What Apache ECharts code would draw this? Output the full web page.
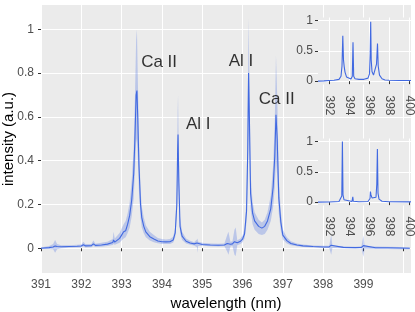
<!DOCTYPE html>
<html><head><meta charset="utf-8">
<script src="https://cdn.jsdelivr.net/npm/echarts@6/dist/echarts.min.js"></script>
<style>html,body{margin:0;padding:0;background:#fff}#c{width:415px;height:312px}</style>
</head><body><div id="c"></div><script>
// ---- main spectrum ----
const wavelength = [391.00,391.20,391.30,391.35,391.40,391.50,391.70,391.90,392.00,392.05,392.10,392.25,392.30,392.35,392.50,392.65,392.78,392.80,392.83,392.95,393.00,393.05,393.10,393.15,393.20,393.25,393.30,393.33,393.36,393.38,393.40,393.43,393.47,393.50,393.55,393.60,393.70,393.80,393.90,394.00,394.10,394.20,394.28,394.33,394.37,394.39,394.40,394.42,394.45,394.50,394.60,394.70,394.80,394.87,394.88,394.90,395.00,395.20,395.40,395.55,395.62,395.65,395.70,395.75,395.80,395.83,395.87,395.95,396.00,396.05,396.10,396.13,396.15,396.17,396.20,396.25,396.30,396.40,396.48,396.55,396.62,396.70,396.76,396.80,396.83,396.86,396.90,396.95,397.00,397.10,397.20,397.35,397.50,397.75,398.00,398.15,398.20,398.23,398.50,398.80,398.95,399.00,399.03,399.30,399.60,399.90,400.15];
const intensity = [0.000,0.003,0.006,0.010,0.008,0.007,0.008,0.009,0.010,0.016,0.011,0.012,0.020,0.013,0.015,0.019,0.026,0.038,0.028,0.045,0.060,0.075,0.080,0.110,0.150,0.220,0.340,0.500,0.700,0.720,0.600,0.380,0.200,0.140,0.100,0.075,0.053,0.042,0.033,0.030,0.029,0.030,0.038,0.070,0.200,0.450,0.520,0.300,0.100,0.055,0.032,0.024,0.020,0.024,0.027,0.020,0.017,0.015,0.014,0.015,0.022,0.025,0.018,0.020,0.030,0.028,0.025,0.032,0.042,0.065,0.170,0.450,0.800,0.600,0.250,0.160,0.125,0.100,0.092,0.100,0.125,0.180,0.280,0.420,0.610,0.500,0.230,0.120,0.060,0.035,0.022,0.015,0.011,0.008,0.006,0.006,0.014,0.006,0.004,0.003,0.004,0.012,0.003,0.002,0.002,0.001,0.000];
const bandLow = [-0.003,-0.003,-0.005,-0.020,-0.005,0.000,0.002,0.003,0.003,0.008,0.004,0.005,0.010,0.006,0.007,0.010,0.015,0.020,0.016,0.025,0.035,0.045,0.050,0.070,0.095,0.145,0.230,0.350,0.480,0.500,0.420,0.260,0.140,0.095,0.068,0.050,0.036,0.028,0.023,0.020,0.019,0.020,0.026,0.050,0.140,0.320,0.350,0.200,0.070,0.038,0.022,0.016,0.013,0.005,-0.020,0.010,0.011,0.009,0.008,0.009,-0.015,-0.030,0.008,0.010,-0.030,-0.035,0.014,0.020,0.028,0.045,0.120,0.320,0.550,0.420,0.180,0.110,0.085,0.065,0.060,0.065,0.085,0.125,0.190,0.280,0.400,0.330,0.160,0.080,0.040,0.022,0.014,0.009,0.006,0.004,0.002,0.001,-0.030,0.001,0.000,0.000,0.000,-0.040,-0.002,-0.003,-0.003,-0.004,-0.004];
const bandHigh = [0.003,0.010,0.020,0.038,0.020,0.014,0.014,0.016,0.017,0.030,0.019,0.020,0.035,0.021,0.025,0.030,0.042,0.075,0.045,0.070,0.090,0.110,0.125,0.160,0.210,0.310,0.460,0.680,0.950,1.000,0.800,0.500,0.270,0.190,0.140,0.105,0.075,0.060,0.047,0.042,0.040,0.042,0.052,0.095,0.280,0.620,0.700,0.420,0.140,0.075,0.045,0.034,0.028,0.040,0.045,0.030,0.025,0.022,0.021,0.022,0.060,0.075,0.030,0.032,0.085,0.095,0.037,0.045,0.058,0.090,0.230,0.650,1.050,0.800,0.340,0.210,0.165,0.130,0.118,0.130,0.165,0.240,0.380,0.580,0.880,0.700,0.320,0.170,0.085,0.050,0.032,0.022,0.017,0.013,0.011,0.012,0.060,0.012,0.009,0.007,0.009,0.058,0.009,0.008,0.007,0.006,0.004];
// ---- inset spectra ----
const inset1Wavelength = [390.9,391.5,392.0,392.5,393.0,393.2,393.3,393.38,393.45,393.52,393.6,393.75,393.9,394.2,394.33,394.4,394.47,394.6,395.0,395.5,395.9,396.05,396.12,396.17,396.22,396.3,396.45,396.6,396.75,396.85,396.92,397.05,397.3,397.6,398.0,399.0,400.2];
const inset1Intensity = [0.00,0.005,0.01,0.015,0.03,0.08,0.25,0.75,0.35,0.24,0.15,0.07,0.04,0.035,0.08,0.64,0.08,0.04,0.03,0.03,0.05,0.12,0.45,0.98,0.35,0.16,0.10,0.13,0.28,0.62,0.25,0.10,0.04,0.02,0.015,0.01,0.01];
const inset2Wavelength = [390.9,392.0,393.0,393.2,393.28,393.34,393.4,393.5,393.7,394.3,394.38,394.43,395.0,395.9,396.1,396.14,396.2,396.3,396.5,396.7,396.78,396.84,396.9,397.0,397.3,398.0,400.2];
const inset2Intensity = [0.0,0.003,0.01,0.03,0.10,1.0,0.12,0.04,0.015,0.01,0.087,0.015,0.008,0.01,0.06,0.175,0.12,0.07,0.06,0.08,0.30,0.875,0.15,0.05,0.015,0.008,0.005];
// ---- ticks & labels ----
const mainXTicks = [391,392,393,394,395,396,397,398,399,400];
const mainXLabels = [391,392,393,394,395,396,397,398,399];
const mainYTicks = [0,0.2,0.4,0.6,0.8,1];
const insetXTicks = [392,394,396,398,400];
const insetYTicks = [0,0.5,1];
const peakNames = ['Ca II','Al I','Al I','Ca II'];
const peakNameX = [393.93,394.90,395.96,396.85];
const peakNameY = [0.85,0.565,0.855,0.68];

const FONT = 'Liberation Sans, Arial, sans-serif';
const BLUE = '#4169E1';
const pairs = (xs, ys) => xs.map((x, i) => [x, ys[i]]);

function xAxisCfg(gi, min, max, ticks, labels, extra) {
  return Object.assign({
    type: 'value', gridIndex: gi, min: min, max: max,
    axisLine: { show: false },
    axisTick: { show: true, length: 3, lineStyle: { color: '#333', width: 1 }, customValues: ticks },
    axisLabel: { color: '#4D4D4D', fontSize: 12, fontFamily: FONT, customValues: labels, hideOverlap: false,
      showMinLabel: true, showMaxLabel: true,
      formatter: v => labels.indexOf(v) >= 0 ? String(v) : '' },
    splitLine: { show: true, lineStyle: { color: '#fff', width: 1 } }
  }, extra || {});
}
function yAxisCfg(gi, min, max, ticks, extra) {
  return Object.assign({
    type: 'value', gridIndex: gi, min: min, max: max,
    axisLine: { show: false },
    axisTick: { show: true, length: 3, lineStyle: { color: '#333', width: 1 }, customValues: ticks },
    axisLabel: { color: '#4D4D4D', fontSize: 12, fontFamily: FONT, customValues: ticks,
      showMinLabel: true, showMaxLabel: true,
      formatter: v => ticks.indexOf(Math.round(v * 1000) / 1000) >= 0 ? String(Math.round(v * 1000) / 1000) : '' },
    splitLine: { show: true, lineStyle: { color: '#fff', width: 1 } }
  }, extra || {});
}

const chart = echarts.init(document.getElementById('c'), null, { renderer: 'canvas' });
const mainX = xAxisCfg(0, 391, 400.18, mainXTicks, mainXLabels, {
  interval: 1, name: 'wavelength (nm)', nameLocation: 'middle', nameGap: 23, nameMoveOverlap: false,
  nameTextStyle: { color: '#000', fontSize: 15, fontFamily: FONT }
});
mainX.axisLabel.margin = 6;
const mainY = yAxisCfg(0, -0.113, 1.111, mainYTicks, {
  splitNumber: 5, name: 'intensity (a.u.)', nameLocation: 'middle', nameGap: 25, nameMoveOverlap: false,
  nameTextStyle: { color: '#000', fontSize: 15, fontFamily: FONT }
});
mainY.axisLabel.margin = 7;

function insetX(gi) {
  const a = xAxisCfg(gi, 390.9, 400.2, insetXTicks, insetXTicks, { splitNumber: 5, z: 6 });
  a.axisLabel.rotate = -90; a.axisLabel.margin = 11;
  return a;
}
function insetY(gi) {
  const a = yAxisCfg(gi, -0.055, 1.05, insetYTicks, { splitNumber: 2, z: 6 });
  a.axisLabel.margin = 5;
  return a;
}

function renderBand(params, api) {
  if (params.dataIndex !== 0) return null;
  const pts = [];
  for (let i = 0; i < wavelength.length; i++) pts.push(api.coord([wavelength[i], bandHigh[i]]));
  for (let i = wavelength.length - 1; i >= 0; i--) pts.push(api.coord([wavelength[i], bandLow[i]]));
  return {
    type: 'polygon',
    shape: { points: pts },
    style: { fill: 'rgba(65,105,225,0.28)' },
    clipPath: { type: 'rect', shape: { x: params.coordSys.x, y: params.coordSys.y, width: params.coordSys.width, height: params.coordSys.height } }
  };
}

const gridCommon = { show: true, backgroundColor: '#EBEBEB', borderWidth: 0, outerBoundsMode: 'none', containLabel: false };
const option = {
  animation: false,
  backgroundColor: '#fff',
  textStyle: { fontFamily: FONT },
  grid: [
    Object.assign({ left: 41, right: 4, top: 5, bottom: 39, z: 0 }, gridCommon),
    Object.assign({ left: 318, width: 93, top: 17.5, height: 67, z: 5 }, gridCommon),
    Object.assign({ left: 318, width: 93, top: 138.5, height: 67, z: 5 }, gridCommon)
  ],
  xAxis: [mainX, insetX(1), insetX(2)],
  yAxis: [mainY, insetY(1), insetY(2)],
  series: [
    { type: 'custom', xAxisIndex: 0, yAxisIndex: 0, renderItem: renderBand,
      data: wavelength.map((x, i) => [x, bandLow[i], bandHigh[i]]), encode: { x: 0, y: [1, 2] }, silent: true, z: 2 },
    { type: 'line', xAxisIndex: 0, yAxisIndex: 0, data: pairs(wavelength, intensity), symbol: 'none',
      lineStyle: { color: BLUE, width: 1.1 }, z: 3 },
    { type: 'scatter', xAxisIndex: 0, yAxisIndex: 0, symbolSize: 0, z: 4,
      data: peakNameX.map((x, i) => ({ value: [x, peakNameY[i]], name: peakNames[i] })),
      label: { show: true, position: 'inside', formatter: p => p.name, color: '#000', fontSize: 17, fontFamily: FONT } },
    { type: 'line', xAxisIndex: 1, yAxisIndex: 1, data: pairs(inset1Wavelength, inset1Intensity), symbol: 'none',
      lineStyle: { color: BLUE, width: 1.1 }, z: 8 },
    { type: 'line', xAxisIndex: 2, yAxisIndex: 2, data: pairs(inset2Wavelength, inset2Intensity), symbol: 'none',
      lineStyle: { color: BLUE, width: 1.1 }, z: 8 }
  ]
};
chart.setOption(option);
</script></body></html>
